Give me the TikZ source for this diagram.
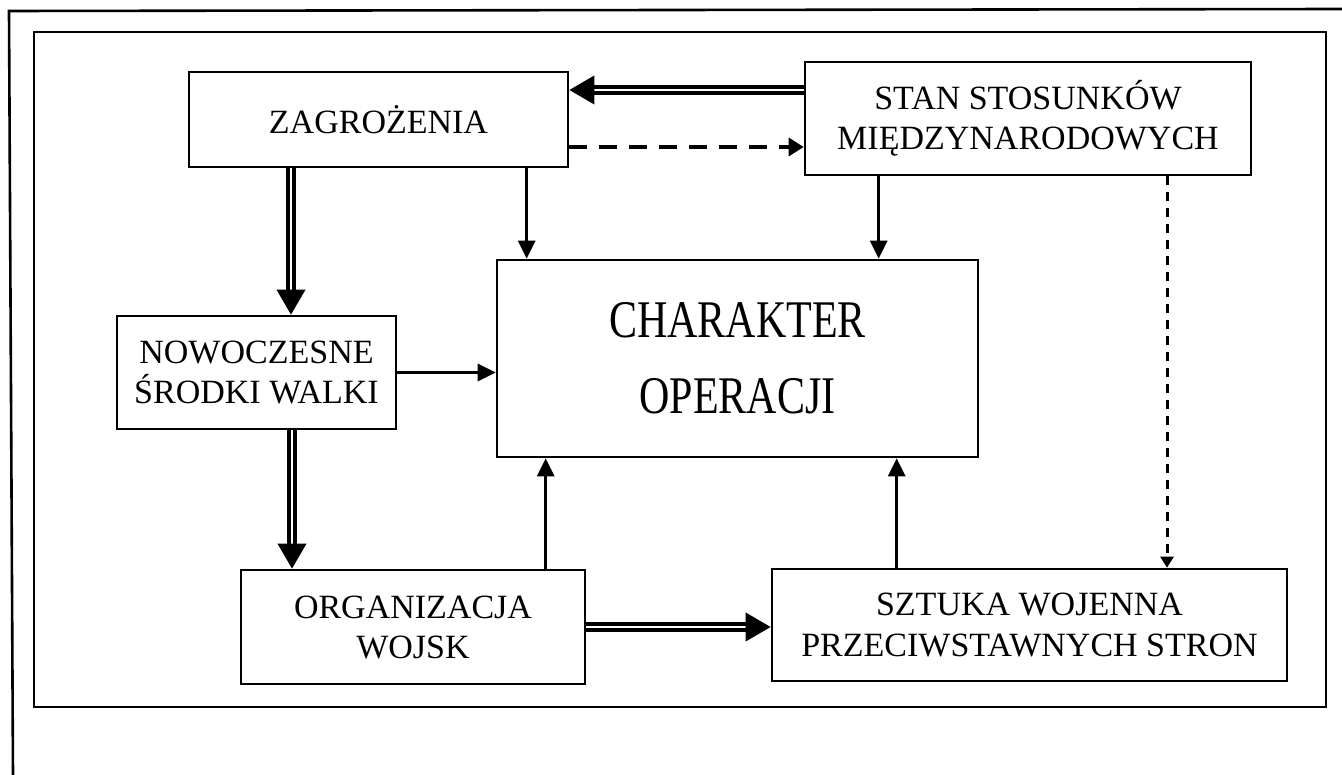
\documentclass[tikz,border=0pt]{standalone}
\usepackage{fontspec}
\setmainfont{Liberation Serif}
\usetikzlibrary{arrows.meta,calc}
\begin{document}
\begin{tikzpicture}[x=1pt,y=-1pt,
  box/.style={draw,line width=2.6pt,inner sep=0pt,align=center,
    font=\fontsize{34}{40}\selectfont},
  arr/.style={line width=3pt,-{Triangle[length=18pt,width=17pt]}},
  dbl/.style={double,double distance=2.2pt,line width=3.8pt,
    -{Triangle[length=25pt,width=28pt]}},
  dsh/.style={line width=3.4pt,dash pattern=on 18pt off 12pt,
    -{Triangle[length=15pt,width=18pt]}},
  dsh2/.style={line width=3pt,dash pattern=on 9pt off 7pt,
    -{Triangle[length=11pt,width=13pt]}}]
\useasboundingbox (0,0) rectangle (1342,775);
% outer frame
\coordinate (o1) at (9,11);
\coordinate (o2) at (1342,9);
\coordinate (o3) at (13,775);
\draw[line width=2.6pt] (o2) -- (o1) -- (o3);
% inner frame
\coordinate (f1) at (34,32);
\coordinate (f2) at (1326,707);
\draw[line width=2.6pt] (f1) rectangle (f2);
% boxes
\node[box,minimum width=379pt,minimum height=95pt] (zag) at (378.5,119.5) {ZAGROŻENIA};
\node[box,minimum width=446pt,minimum height=113pt] (stan) at (1028,118.5) {STAN STOSUNKÓW\\MIĘDZYNARODOWYCH};
\node[box,minimum width=481pt,minimum height=197pt,font=\fontsize{42}{76}\selectfont] (char) at (737.5,358.5)
  {\scalebox{1}[1.26]{CHARAKTER}\\\scalebox{1}[1.26]{OPERACJI}};
\node[box,minimum width=279pt,minimum height=113pt] (now) at (256.5,372.5) {NOWOCZESNE\\ŚRODKI WALKI};
\node[box,minimum width=344pt,minimum height=114pt] (org) at (413,627) {ORGANIZACJA\\WOJSK};
\node[box,minimum width=515pt,minimum height=112pt] (szt) at (1029.5,625) {SZTUKA WOJENNA\\PRZECIWSTAWNYCH STRON};
% connector anchor points
\coordinate (c1) at ([xshift=31pt]char.north west);
\coordinate (c2) at ([xshift=383pt]char.north west);
\coordinate (c3) at ([xshift=50pt]char.south west);
\coordinate (c4) at ([xshift=401pt]char.south west);
\coordinate (z1) at ([yshift=29.5pt]zag.east);
\coordinate (z2) at ([yshift=-27.5pt]zag.east);
\coordinate (n1) at ([xshift=34.5pt]now.north);
\coordinate (n2) at ([xshift=35.5pt]now.south);
\coordinate (s1) at ([xshift=137.5pt]szt.north);
% connectors
\draw[dbl] (stan.west |- z1) -- (z1);
\draw[dsh] (z2) -- (stan.west |- z2);
\draw[arr] (zag.south -| c1) -- (c1);
\draw[arr] (stan.south -| c2) -- (c2);
\draw[dbl] (zag.south -| n1) -- (n1);
\draw[arr] (now.east) -- (now.east -| char.west);
\draw[dbl] (n2) -- (org.north -| n2);
\draw[arr] (org.north -| c3) -- (c3);
\draw[arr] (szt.north -| c4) -- (c4);
\draw[dbl] (org.east) -- (org.east -| szt.west);
\draw[dsh2] (stan.south -| s1) -- (s1);
\end{tikzpicture}
\end{document}
